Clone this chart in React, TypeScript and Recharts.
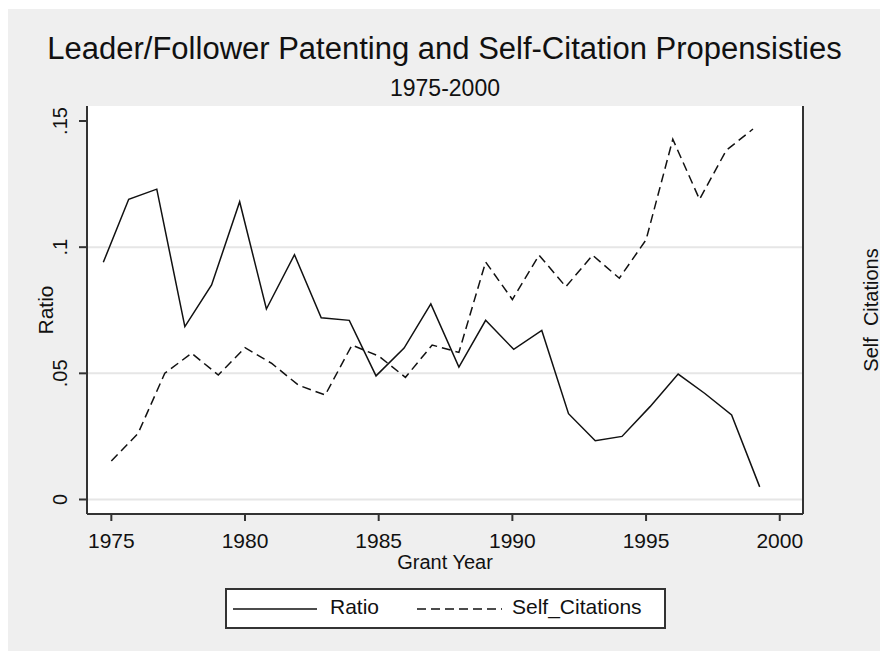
import React from 'react';
import {
  LineChart,
  Line,
  XAxis,
  YAxis,
  CartesianGrid,
  ReferenceLine,
  Legend,
  Label,
} from 'recharts';

// Leader/Follower patenting vs self-citation, Stata-style two axis line plot

const FONT = '"Liberation Sans", Arial, sans-serif';
const INK = '#111';
const AXIS = '#333';

// Ratio series (left axis) - x positions
const ratioYears = [
  1974.7, 1975.65, 1976.7, 1977.75, 1978.75, 1979.8, 1980.8, 1981.85, 1982.85,
  1983.9, 1984.9, 1985.95, 1986.95, 1988.0, 1989.0, 1990.05, 1991.1, 1992.1,
  1993.1, 1994.1, 1995.15, 1996.2, 1997.2, 1998.2, 1999.25,
];
const ratioValues = [
  0.094, 0.119, 0.123, 0.0685, 0.085, 0.118, 0.0755, 0.097, 0.072, 0.071,
  0.049, 0.06, 0.0775, 0.0525, 0.071, 0.0595, 0.067, 0.034, 0.0233, 0.025,
  0.0368, 0.0497, 0.042, 0.0335, 0.005,
];

// Self_Citations series (right axis, unlabelled)
const selfCiteYears = [
  1975, 1976, 1977, 1978, 1979, 1980, 1981, 1982, 1983, 1984, 1985, 1986, 1987,
  1988, 1989, 1990, 1991, 1992, 1993, 1994, 1995, 1996, 1997, 1998, 1999,
];
const selfCiteValues = [
  0.1375, 0.17, 0.2405, 0.264, 0.2385, 0.2705, 0.252, 0.2265, 0.215, 0.2735,
  0.2607, 0.2357, 0.2736, 0.265, 0.371, 0.327, 0.379, 0.342, 0.379, 0.352,
  0.397, 0.515, 0.4445, 0.502, 0.527,
];

const xTicks = [1975, 1980, 1985, 1990, 1995, 2000];
const leftTicks = [0, 0.05, 0.1, 0.15];
const rightTicks = [0.1, 0.2, 0.3, 0.4, 0.5];
const gridValues = [0, 0.05, 0.1];

const ratioData = ratioYears.map((year, i) => ({ year, ratio: ratioValues[i] }));
const selfCiteData = selfCiteYears.map((year, i) => ({
  year,
  selfCite: selfCiteValues[i],
}));

const fmtLeft = (v: number) => String(v).replace(/^0\./, '.');

const LeftTick = ({ y, payload }: any) => (
  <text
    x={59}
    y={y}
    transform={`rotate(-90 59 ${y})`}
    textAnchor="middle"
    fontSize={20}
    fontFamily={FONT}
    fill={INK}
  >
    {fmtLeft(payload.value)}
  </text>
);

const LegendBox = () => (
  <div
    style={{
      position: 'relative',
      width: 441,
      height: 41,
      boxSizing: 'border-box',
      border: `2px solid ${AXIS}`,
      background: '#fff',
    }}
  >
    <svg
      width={441}
      height={41}
      style={{ position: 'absolute', left: -2, top: -2 }}
    >
      <line x1={8} x2={92} y1={21} y2={21} stroke={INK} strokeWidth={1.5} />
      <text x={105} y={25.5} fontSize={21} fontFamily={FONT} fill={INK}>
        Ratio
      </text>
      <line
        x1={192}
        x2={277}
        y1={21}
        y2={21}
        stroke={INK}
        strokeWidth={1.5}
        strokeDasharray="9 5"
      />
      <text x={287} y={25.5} fontSize={21} fontFamily={FONT} fill={INK}>
        Self_Citations
      </text>
    </svg>
  </div>
);

export default function App(): React.ReactElement {
  return (
    <div
      style={{
        position: 'relative',
        top: 1,
        width: 880,
        height: 643,
        background: '#efefef',
        fontFamily: FONT,
      }}
    >
      <svg
        width={880}
        height={100}
        style={{ position: 'absolute', left: 0, top: 0, pointerEvents: 'none' }}
      >
        <text x={436.5} y={50} textAnchor="middle" fontSize={31} fill={INK} fontFamily={FONT}>
          Leader/Follower Patenting and Self-Citation Propensisties
        </text>
        <text x={437} y={87} textAnchor="middle" fontSize={23} fill={INK} fontFamily={FONT}>
          1975-2000
        </text>
      </svg>
      <LineChart
        width={880}
        height={643}
        margin={{ top: 97, right: 0, bottom: 0, left: 0 }}
      >
        <CartesianGrid
          yAxisId="left"
          horizontal={false}
          vertical={false}
          fill="#ffffff"
          fillOpacity={1}
        />
        <XAxis
          type="number"
          dataKey="year"
          domain={[1974.09, 2000.87]}
          ticks={xTicks}
          interval={0}
          allowDataOverflow
          height={138}
          tickSize={7}
          tickMargin={12}
          axisLine={{ stroke: AXIS, strokeWidth: 2 }}
          tickLine={{ stroke: AXIS, strokeWidth: 2 }}
          tick={{ fontSize: 21, fill: INK, fontFamily: FONT }}
        >
          <Label
            value="Grant Year"
            position="insideTop"
            offset={41}
            style={{ fontSize: 20, fill: INK, fontFamily: FONT }}
          />
        </XAxis>
        <YAxis
          yAxisId="left"
          orientation="left"
          width={79}
          domain={[-0.00575, 0.15595]}
          ticks={leftTicks}
          interval={0}
          allowDataOverflow
          tickSize={8}
          axisLine={{ stroke: AXIS, strokeWidth: 2 }}
          tickLine={{ stroke: AXIS, strokeWidth: 2 }}
          tick={LeftTick}
        >
          <Label
            value="Ratio"
            angle={-90}
            position="insideLeft"
            offset={38}
            style={{ fontSize: 21, fill: INK, fontFamily: FONT, textAnchor: 'middle' }}
          />
        </YAxis>
        <YAxis
          yAxisId="right"
          orientation="right"
          width={85}
          domain={[0.0754, 0.554]}
          ticks={rightTicks}
          interval={0}
          allowDataOverflow
          tickSize={9}
          axisLine={{ stroke: AXIS, strokeWidth: 2 }}
          tickLine={{ stroke: AXIS, strokeWidth: 2 }}
          tick={false}
        >
          <Label
            value="Self_Citations"
            angle={-90}
            position="insideLeft"
            offset={68}
            style={{ fontSize: 20, fill: INK, fontFamily: FONT, textAnchor: 'middle' }}
          />
        </YAxis>

        {gridValues.map(v => (
          <ReferenceLine
            key={v}
            yAxisId="left"
            y={v}
            stroke="#e6e6e6"
            strokeWidth={2}
          />
        ))}

        <Line
          yAxisId="left"
          data={ratioData}
          dataKey="ratio"
          name="Ratio"
          type="linear"
          stroke={INK}
          strokeWidth={1.5}
          dot={false}
          activeDot={false}
          isAnimationActive={false}
        />
        <Line
          yAxisId="right"
          data={selfCiteData}
          dataKey="selfCite"
          name="Self_Citations"
          type="linear"
          stroke={INK}
          strokeWidth={1.5}
          strokeDasharray="9 5"
          dot={false}
          activeDot={false}
          isAnimationActive={false}
        />

        <Legend
          layout="horizontal"
          verticalAlign="middle"
          align="center"
          wrapperStyle={{ left: 217, top: 579, width: 441, height: 41 }}
          content={() => <LegendBox />}
        />
      </LineChart>
    </div>
  );
}
